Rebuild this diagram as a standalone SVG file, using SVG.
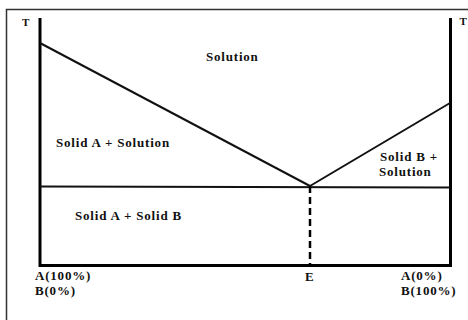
<svg xmlns="http://www.w3.org/2000/svg" width="468" height="320" viewBox="0 0 468 320">
<style>
.t{font-family:"Liberation Serif","Times New Roman",serif;font-weight:bold;font-size:13px;letter-spacing:0.8px;fill:#111}
.s{font-size:11px;letter-spacing:0}
.ax{stroke:#000;stroke-width:3;fill:none}
.ln{stroke:#111;stroke-width:2;fill:none}
</style>
<rect width="468" height="320" fill="#fff"/>
<path d="M6.5,330 V9.5 H470" stroke="#333" stroke-width="1.5" fill="none"/>
<g id="axes">
<path class="ax" d="M40,18 V265.5 H450.5 V18"/>
</g>
<g id="connectors">
<line class="ln" x1="40" y1="43" x2="310" y2="186"/>
<line class="ln" x1="310" y1="186" x2="450" y2="103"/>
<line class="ln" x1="40" y1="186.5" x2="450" y2="187.5" stroke-width="1.6"/>
<line x1="310" y1="186" x2="310" y2="265" stroke="#000" stroke-width="2.5" stroke-dasharray="7,4"/>
</g>
<g id="labels">
<text class="t s" x="22" y="26">T</text>
<text class="t s" x="459.5" y="25">T</text>
<text class="t" x="206" y="61">Solution</text>
<text class="t" x="56" y="147">Solid A + Solution</text>
<text class="t" x="75" y="220">Solid A + Solid B</text>
<text class="t" x="380" y="161">Solid B +</text>
<text class="t" x="379" y="176">Solution</text>
<text class="t" x="35" y="280">A(100%)</text>
<text class="t" x="35" y="295">B(0%)</text>
<text class="t" x="305" y="281">E</text>
<text class="t" x="401" y="280">A(0%)</text>
<text class="t" x="401" y="295">B(100%)</text>
</g>
</svg>
